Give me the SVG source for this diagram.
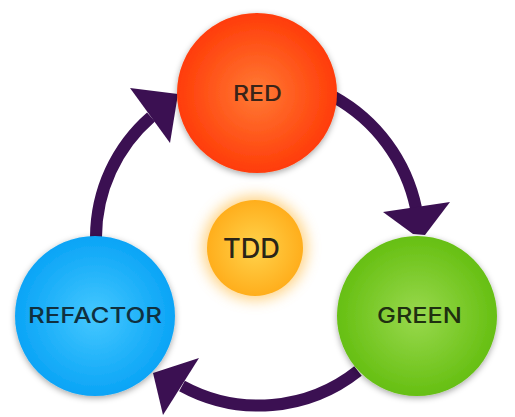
<svg xmlns="http://www.w3.org/2000/svg" width="515" height="417" viewBox="0 0 515 417">
<style>
.arc{fill:none;stroke:#3b1052;stroke-width:12;stroke-linecap:butt}
.head{fill:#3b1052}
.lbl{font-family:Inter,"Noto Sans",sans-serif;font-weight:500;text-anchor:middle;font-size:21px}
</style>
<defs>
<filter id="sh" x="-20%" y="-20%" width="140%" height="140%">
<feDropShadow dx="0" dy="2" stdDeviation="3" flood-color="#000" flood-opacity="0.35"/>
</filter>
<filter id="glow" x="-50%" y="-50%" width="200%" height="200%">
<feGaussianBlur stdDeviation="7"/>
</filter>
<radialGradient id="gRed" cx="50%" cy="50%" r="50%">
<stop offset="0" stop-color="#ff7a35"/>
<stop offset="1" stop-color="#ff3c08"/>
</radialGradient>
<radialGradient id="gGreen" cx="50%" cy="50%" r="50%">
<stop offset="0" stop-color="#99d94e"/>
<stop offset="1" stop-color="#66bf12"/>
</radialGradient>
<radialGradient id="gBlue" cx="50%" cy="50%" r="50%">
<stop offset="0" stop-color="#45c8ff"/>
<stop offset="1" stop-color="#0aa4f6"/>
</radialGradient>
<radialGradient id="gTdd" cx="50%" cy="50%" r="50%">
<stop offset="0" stop-color="#ffd34c"/>
<stop offset="1" stop-color="#ffae1c"/>
</radialGradient>
</defs>
<rect width="515" height="417" fill="#fff"/>
<g id="connectors">
<path class="arc" d="M 334 97 A 166 166 0 0 1 416 208"/>
<polygon class="head" points="383,212 450,202 425,235 413,234"/>
<path class="arc" d="M 358 371 A 160 160 0 0 1 182 386"/>
<polygon class="head" points="199,358 163,415 153,373"/>
<path class="arc" d="M 96 237 A 160 160 0 0 1 151 117"/>
<polygon class="head" points="130,88 170,143 178,94"/>
</g>
<g id="node-red">
<circle cx="257" cy="93" r="80" fill="url(#gRed)" filter="url(#sh)"/>
<text class="lbl" x="257.5" y="101" fill="#3a2418" textLength="49" lengthAdjust="spacingAndGlyphs">RED</text>
</g>
<g id="node-green">
<circle cx="417" cy="316" r="80" fill="url(#gGreen)" filter="url(#sh)"/>
<text class="lbl" x="419.5" y="323" fill="#1f3010" textLength="85" lengthAdjust="spacingAndGlyphs">GREEN</text>
</g>
<g id="node-refactor">
<circle cx="95" cy="316" r="80" fill="url(#gBlue)" filter="url(#sh)"/>
<text class="lbl" x="95" y="323" fill="#10303f" textLength="134" lengthAdjust="spacingAndGlyphs">REFACTOR</text>
</g>
<g id="node-tdd">
<circle cx="255" cy="248" r="52" fill="#ffc45a" opacity="0.75" filter="url(#glow)"/>
<circle cx="255" cy="248" r="48" fill="url(#gTdd)"/>
<text class="lbl" x="251.5" y="258" fill="#2a2418" style="font-size:27px" textLength="57" lengthAdjust="spacingAndGlyphs">TDD</text>
</g>
</svg>
